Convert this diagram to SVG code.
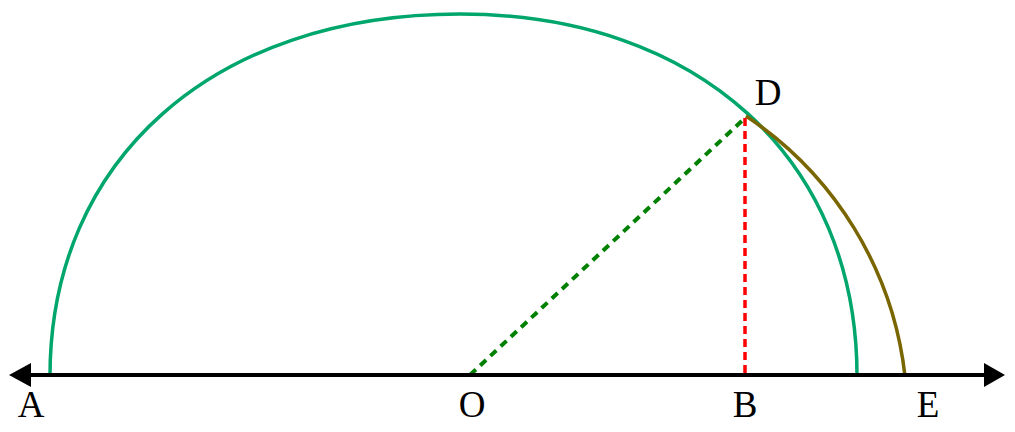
<svg xmlns="http://www.w3.org/2000/svg" width="1015" height="432" viewBox="0 0 1015 432">
<style>
.lbl{font-family:"Liberation Serif","DejaVu Serif",serif;font-size:37px;fill:#000;text-anchor:middle}
.curve{fill:none;stroke:#00a66c;stroke-width:3.5}
.arc2{fill:none;stroke:#7a6600;stroke-width:3.5}
.radius{fill:none;stroke:#008000;stroke-width:4;stroke-dasharray:8 6}
.perp{fill:none;stroke:#ff0000;stroke-width:3.5;stroke-dasharray:8 5}
.axis{stroke:#000;stroke-width:4}
</style>
<rect width="1015" height="432" fill="#fff"/>
<g id="shapes">
<path id="semicircle" class="curve" d="M50,376 C50,159 214,14 460,14 C698,14 857,159 857,376"/>
<path id="arcDE" class="arc2" d="M746,116 A361,361 0 0 1 905,376"/>
</g>
<g id="connectors">
<line class="radius" x1="470" y1="375" x2="746" y2="117"/>
<line class="perp" x1="745" y1="118" x2="745" y2="375"/>
<line class="axis" x1="28" y1="375" x2="988" y2="375"/>
<polygon points="9,375 31,363 31,387" fill="#000"/>
<polygon points="1005,375 984,363 984,387" fill="#000"/>
</g>
<g id="labels">
<g id="A"><text class="lbl" x="31" y="417">A</text></g>
<g id="O"><text class="lbl" x="472" y="417">O</text></g>
<g id="B"><text class="lbl" x="745" y="417">B</text></g>
<g id="E"><text class="lbl" x="928" y="417">E</text></g>
<g id="D"><text class="lbl" x="768" y="105">D</text></g>
</g>
</svg>
